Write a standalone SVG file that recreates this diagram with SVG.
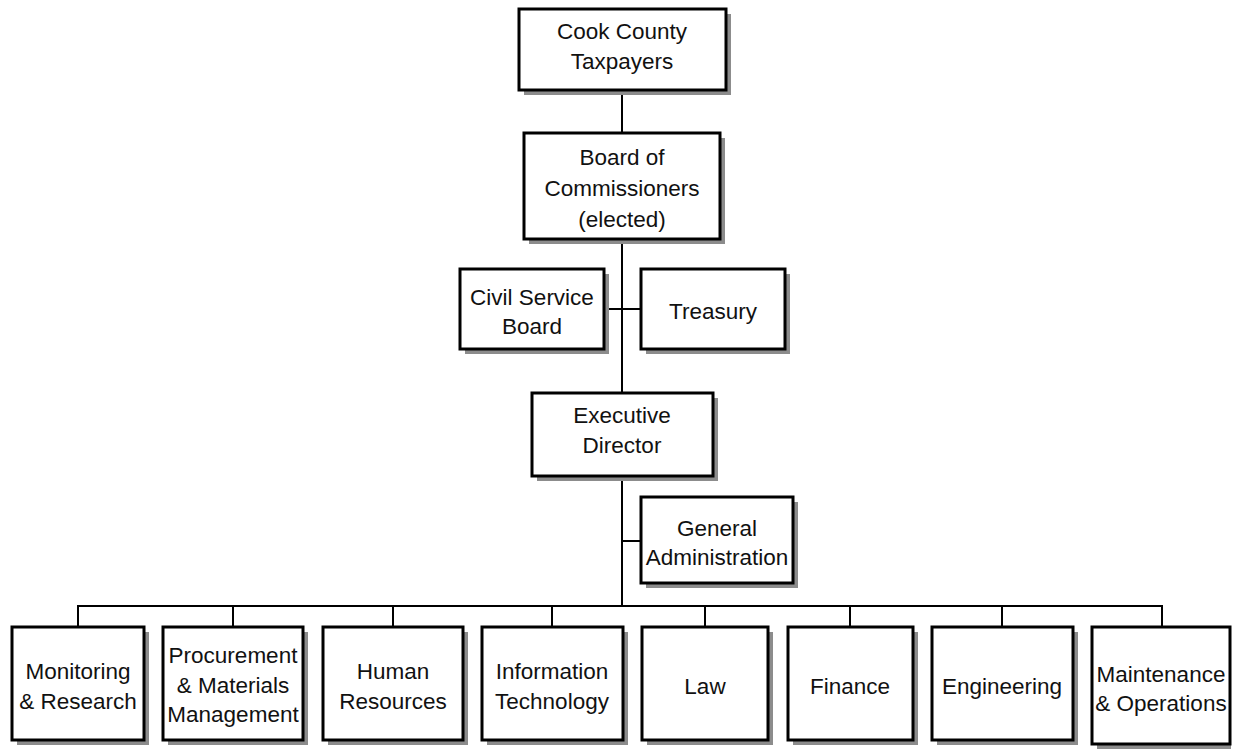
<svg xmlns="http://www.w3.org/2000/svg" width="1233" height="751" viewBox="0 0 1233 751">
<style>
.sh{fill:#8c8c8c;stroke:none}
.bx{fill:#fff;stroke:#000;stroke-width:3}
.t{font-family:"Liberation Sans",Arial,sans-serif;font-size:22.5px;fill:#111;text-anchor:middle}
.c{stroke:#000;stroke-width:2;fill:none}
</style>
<rect width="1233" height="751" fill="#fff"/>
<g id="connectors">
<line class="c" x1="622" y1="90" x2="622" y2="606"/>
<line class="c" x1="604" y1="309" x2="641" y2="309"/>
<line class="c" x1="622" y1="541" x2="641" y2="541"/>
<line class="c" x1="77" y1="606" x2="1163" y2="606"/>
<line class="c" x1="78" y1="606" x2="78" y2="627"/>
<line class="c" x1="233" y1="606" x2="233" y2="627"/>
<line class="c" x1="393" y1="606" x2="393" y2="627"/>
<line class="c" x1="552" y1="606" x2="552" y2="627"/>
<line class="c" x1="705" y1="606" x2="705" y2="627"/>
<line class="c" x1="850" y1="606" x2="850" y2="627"/>
<line class="c" x1="1002" y1="606" x2="1002" y2="627"/>
<line class="c" x1="1162" y1="606" x2="1162" y2="627"/>
</g>
<g id="taxpayers">
<rect class="sh" x="524" y="14" width="207" height="81"/>
<rect class="bx" x="519" y="9" width="207" height="81"/>
<text class="t" x="622" y="39">Cook County</text>
<text class="t" x="622" y="69">Taxpayers</text>
</g>
<g id="board">
<rect class="sh" x="529" y="138" width="196" height="106"/>
<rect class="bx" x="524" y="133" width="196" height="106"/>
<text class="t" x="622" y="165">Board of</text>
<text class="t" x="622" y="196">Commissioners</text>
<text class="t" x="622" y="227">(elected)</text>
</g>
<g id="civil">
<rect class="sh" x="465" y="274" width="144" height="80"/>
<rect class="bx" x="460" y="269" width="144" height="80"/>
<text class="t" x="532" y="305">Civil Service</text>
<text class="t" x="532" y="334">Board</text>
</g>
<g id="treasury">
<rect class="sh" x="646" y="274" width="144" height="80"/>
<rect class="bx" x="641" y="269" width="144" height="80"/>
<text class="t" x="713" y="319">Treasury</text>
</g>
<g id="executive">
<rect class="sh" x="537" y="398" width="181" height="83"/>
<rect class="bx" x="532" y="393" width="181" height="83"/>
<text class="t" x="622" y="423">Executive</text>
<text class="t" x="622" y="453">Director</text>
</g>
<g id="genadmin">
<rect class="sh" x="646" y="502" width="152" height="86"/>
<rect class="bx" x="641" y="497" width="152" height="86"/>
<text class="t" x="717" y="536">General</text>
<text class="t" x="717" y="565">Administration</text>
</g>
<g id="monitoring">
<rect class="sh" x="17" y="632" width="132" height="113"/>
<rect class="bx" x="12" y="627" width="132" height="113"/>
<text class="t" x="78" y="679">Monitoring</text>
<text class="t" x="78" y="709">&amp; Research</text>
</g>
<g id="procurement">
<rect class="sh" x="168" y="632" width="140" height="113"/>
<rect class="bx" x="163" y="627" width="140" height="113"/>
<text class="t" x="233" y="663">Procurement</text>
<text class="t" x="233" y="693">&amp; Materials</text>
<text class="t" x="233" y="722">Management</text>
</g>
<g id="hr">
<rect class="sh" x="328" y="632" width="140" height="113"/>
<rect class="bx" x="323" y="627" width="140" height="113"/>
<text class="t" x="393" y="679">Human</text>
<text class="t" x="393" y="709">Resources</text>
</g>
<g id="it">
<rect class="sh" x="487" y="632" width="141" height="113"/>
<rect class="bx" x="482" y="627" width="141" height="113"/>
<text class="t" x="552" y="679">Information</text>
<text class="t" x="552" y="709">Technology</text>
</g>
<g id="law">
<rect class="sh" x="647" y="632" width="126" height="113"/>
<rect class="bx" x="642" y="627" width="126" height="113"/>
<text class="t" x="705" y="694">Law</text>
</g>
<g id="finance">
<rect class="sh" x="793" y="632" width="125" height="113"/>
<rect class="bx" x="788" y="627" width="125" height="113"/>
<text class="t" x="850" y="694">Finance</text>
</g>
<g id="engineering">
<rect class="sh" x="937" y="632" width="141" height="113"/>
<rect class="bx" x="932" y="627" width="141" height="113"/>
<text class="t" x="1002" y="694">Engineering</text>
</g>
<g id="maintenance">
<rect class="sh" x="1097" y="632" width="134" height="117"/>
<rect class="bx" x="1092" y="627" width="138" height="117"/>
<text class="t" x="1161" y="682">Maintenance</text>
<text class="t" x="1161" y="711">&amp; Operations</text>
</g>
</svg>
